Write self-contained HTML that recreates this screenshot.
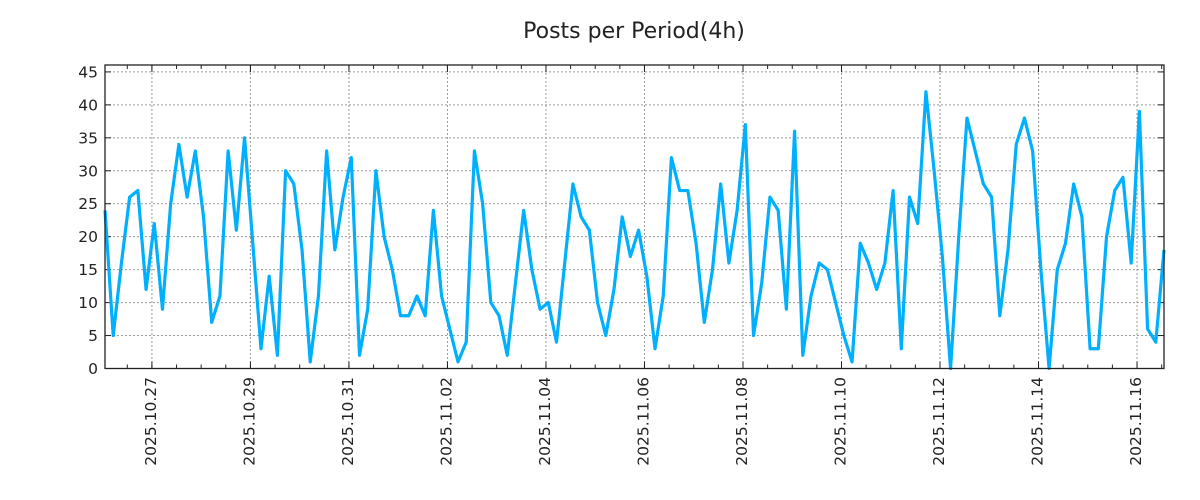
<!DOCTYPE html>
<html><head><meta charset="utf-8"><style>
html,body{margin:0;padding:0;background:#fff;}
svg{display:block;font-family:"DejaVu Sans","Liberation Sans",sans-serif;}
</style></head><body>
<svg id="chart" width="1200" height="500">
<text x="634" y="38" font-size="22" text-anchor="middle" fill="#222">Posts per Period(4h)</text>
<g id="grid"></g>
<g id="axes"></g>
<path id="series" fill="none" stroke="#00b0ff" stroke-width="3.2" stroke-linejoin="round"/>
<rect x="105" y="65" width="1059" height="303.5" fill="none" stroke="#222" stroke-width="1.3"/>
</svg>
<script>
const values = [24,5,16,26,27,12,22,9,25,34,
26,33,23,7,11,33,21,35,19,3,
14,2,30,28,18,1,11,33,18,26,
32,2,9,30,20,15,8,8,11,8,
24,11,6,1,4,33,25,10,8,2,
13,24,15,9,10,4,16,28,23,21,
10,5,12,23,17,21,14,3,11,32,
27,27,19,7,15,28,16,24,37,5,
13,26,24,9,36,2,11,16,15,10,
5,1,19,16,12,16,27,3,26,22,
42,30,17,0,20,38,33,28,26,8,
18,34,38,33,15,0,15,19,28,23,
3,3,20,27,29,16,39,6,4,18];
const yTicks = [0,5,10,15,20,25,30,35,40,45];
const dateLabels = ["2025.10.27","2025.10.29","2025.10.31","2025.11.02","2025.11.04","2025.11.06","2025.11.08","2025.11.10","2025.11.12","2025.11.14","2025.11.16"];
const startHour = 1.14;   // first sample, hours after 2025.10.26 00:00
const stepHours = 4;

const L=105,R=1164,T=65,B=368.5,yMax=46.05;
const tEnd = startHour + stepHours*(values.length-1);
const xs = h => L + (h-startHour)/(tEnd-startHour)*(R-L);
const ys = v => B - v/yMax*(B-T);
const NS="http://www.w3.org/2000/svg";
const grid=document.getElementById('grid'), axes=document.getElementById('axes');
function mk(tag,attrs,parent){const e=document.createElementNS(NS,tag);for(const k in attrs)e.setAttribute(k,attrs[k]);parent.appendChild(e);return e;}

yTicks.forEach(v=>{
  const y=ys(v);
  if(v>0){const g=mk('line',{x1:L,x2:R,y1:y,y2:y,stroke:'#999','stroke-width':1,'stroke-dasharray':'2,2'},grid);
  
  }
  mk('line',{x1:L,x2:L+6,y1:y,y2:y,stroke:'#222'},axes);
  mk('line',{x1:R-6,x2:R,y1:y,y2:y,stroke:'#222'},axes);
  const t=mk('text',{x:98,y:y+5.5,'font-size':15.5,'text-anchor':'end',fill:'#222'},axes);
  t.textContent=v;
  
  
});
for(let h=12; h<tEnd; h+=12){
  if(h<startHour) continue;
  const x=xs(h);
  mk('line',{x1:x,x2:x,y1:B,y2:B-4,stroke:'#222'},axes);
  mk('line',{x1:x,x2:x,y1:T,y2:T+4,stroke:'#222'},axes);
}
dateLabels.forEach((lab,i)=>{
  const x=xs(24+48*i);
  const g=mk('line',{x1:x,x2:x,y1:T,y2:B,stroke:'#999','stroke-width':1,'stroke-dasharray':'2,2'},grid);
  
  
  mk('line',{x1:x,x2:x,y1:B,y2:B-7,stroke:'#222'},axes);
  mk('line',{x1:x,x2:x,y1:T,y2:T+7,stroke:'#222'},axes);
  const t=mk('text',{x:0,y:0,'font-size':15.5,'text-anchor':'end',fill:'#222',transform:`translate(${x+4},377) rotate(-90)`},axes);
  t.textContent=lab;
  
  
});
document.getElementById('series').setAttribute('d',
  values.map((v,i)=>(i?'L':'M')+xs(startHour+stepHours*i).toFixed(2)+','+ys(v).toFixed(2)).join(''));
</script>
</body></html>
